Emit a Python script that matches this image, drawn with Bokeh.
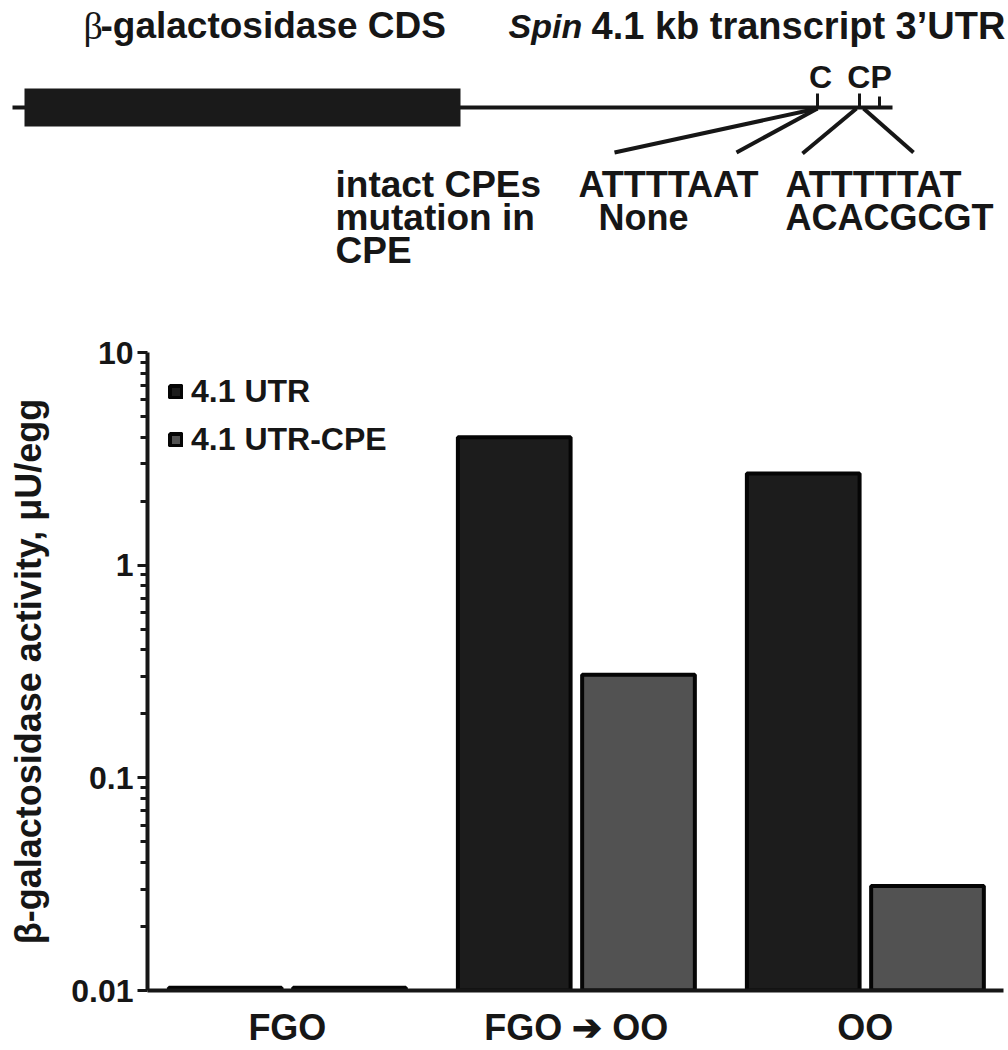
import numpy as np
from bokeh.plotting import figure
from bokeh.models import Range1d, FixedTicker, Legend, LegendItem, ColumnDataSource
from bokeh.layouts import column
from bokeh.embed import file_html
from bokeh.resources import INLINE
from bokeh.core.properties import value

# ---------------- data ----------------
stages = ["FGO", "FGO \u2794 OO", "OO"]
series_names = ["4.1 UTR", "4.1 UTR-CPE"]
utr_activity = [0.0103, 4.0, 2.7]          # beta-gal activity, uU/egg
utr_cpe_activity = [0.0103, 0.305, 0.031]
y_major_ticks = [0.01, 0.1, 1.0, 10.0]
y_tick_labels = ["0.01", "0.1", "1", "10"]
y_minor_ticks = [m * d for d in (0.01, 0.1, 1.0) for m in range(2, 10)]
y_label = "\u03b2-galactosidase activity, \u03bcU/egg"

# schematic texts
cds_beta = "\u03b2"
cds_label = "-galactosidase CDS"
utr_italic = "Spin"
utr_label = "4.1 kb transcript 3\u2019UTR"
site_labels = ["C", "CP"]
left_rows = ["intact CPEs", "mutation in", "CPE"]
seq_site1 = ["ATTTTAAT", "None"]
seq_site2 = ["ATTTTTAT", "ACACGCGT"]

FONT = "Liberation Sans"
INK = "#161616"

W = 1008
TOP_H = 290
BOT_H = 760
BORDER_L = 147
BORDER_R = 5

# ---------------- schematic (top) ----------------
# frame aligned with the chart below; the x range maps 1:1 to page pixels
top = figure(width=W, height=TOP_H, x_range=Range1d(BORDER_L, W - BORDER_R),
             y_range=Range1d(TOP_H, 0),
             output_backend="svg", toolbar_location=None,
             min_border_left=BORDER_L, min_border_right=BORDER_R,
             min_border_top=0, min_border_bottom=0,
             x_axis_location=None, y_axis_location=None, outline_line_color=None)
top.grid.visible = False
LV = "overlay"

# backbone and CDS box
top.line(x=[12, 892], y=[107, 107], line_width=4, line_color=INK, level=LV)
top.quad(left=[24], right=[460], top=[88], bottom=[126], fill_color="#1a1a1a",
         line_color=None, level=LV)
# CPE / PAS sites
top.segment(x0=[817, 859, 879], y0=[93, 93, 96], x1=[817, 859, 879], y1=[107, 107, 107],
            line_width=3, line_color=INK, level=LV)
top.text(x=[820, 869], y=[76, 76], text=site_labels, text_align="center",
         text_baseline="alphabetic", text_font=value(FONT), text_font_style="bold",
         text_font_size="32px", text_color=INK, level=LV)
top.segment(x0=[817, 817, 856, 863], y0=[108, 108, 108, 108],
            x1=[614, 736, 802, 913], y1=[152, 152, 153, 152],
            line_width=4, line_color=INK, level=LV)

# titles
top.text(x=[83], y=[25], text=[cds_beta], text_font=value("Liberation Serif"),
         text_font_size="38px", text_baseline="alphabetic", text_color=INK, level=LV)
top.text(x=[100], y=[25], text=[cds_label], text_font=value(FONT), text_font_style="bold",
         text_font_size="37px", text_baseline="alphabetic", text_color=INK, level=LV)
top.text(x=[508], y=[25], text=[utr_italic], text_font=value(FONT), text_font_style="bold italic",
         text_font_size="34px", text_baseline="alphabetic", text_color=INK, level=LV)
top.text(x=[591], y=[25], text=[utr_label], text_font=value(FONT), text_font_style="bold",
         text_font_size="38px", text_baseline="alphabetic", text_color=INK, level=LV)

# sequence rows
row_y = [184, 217, 250]
top.text(x=[335] * 3, y=row_y, text=left_rows, text_font=value(FONT), text_font_style="bold",
         text_font_size="37px", text_baseline="alphabetic", text_color=INK, level=LV)
top.text(x=[578, 598], y=row_y[:2], text=seq_site1, text_font=value(FONT), text_font_style="bold",
         text_font_size="36px", text_baseline="alphabetic", text_color=INK, level=LV)
top.text(x=[785, 785], y=row_y[:2], text=seq_site2, text_font=value(FONT), text_font_style="bold",
         text_font_size="36px", text_baseline="alphabetic", text_color=INK, level=LV)

# ---------------- bar chart (bottom) ----------------
bot = figure(width=W, height=BOT_H, y_axis_type="log",
             x_range=Range1d(-0.484, 2.478), y_range=Range1d(0.01, 10),
             output_backend="svg", toolbar_location=None,
             min_border_left=BORDER_L, min_border_right=BORDER_R,
             min_border_top=62, min_border_bottom=59,
             outline_line_color=None)
bot.grid.visible = False

x_idx = np.arange(len(stages))
src = ColumnDataSource(dict(x_utr=x_idx - 0.215, x_cpe=x_idx + 0.215,
                            utr=utr_activity, cpe=utr_cpe_activity))
r1 = bot.vbar(x="x_utr", top="utr", bottom=0.01, width=0.39, source=src,
              fill_color="#1c1c1c", line_color="#050505", line_width=4)
r2 = bot.vbar(x="x_cpe", top="cpe", bottom=0.01, width=0.39, source=src,
              fill_color="#525252", line_color="#050505", line_width=4)

# y axis
ya = bot.yaxis[0]
ya.ticker = FixedTicker(ticks=y_major_ticks, minor_ticks=y_minor_ticks)
ya.major_label_overrides = dict(zip(y_major_ticks, y_tick_labels))
ya.axis_line_width = 4
ya.axis_line_color = INK
ya.major_tick_line_width = 3
ya.major_tick_line_color = INK
ya.minor_tick_line_width = 3
ya.minor_tick_line_color = INK
ya.major_tick_out = 10
ya.major_tick_in = 0
ya.minor_tick_out = 7
ya.minor_tick_in = 0
ya.major_label_standoff = 4
ya.major_label_text_font = FONT
ya.major_label_text_font_style = "bold"
ya.major_label_text_font_size = "32px"
ya.major_label_text_color = INK
ya.axis_label = y_label
ya.axis_label_text_font = FONT
ya.axis_label_text_font_style = "bold"
ya.axis_label_text_font_size = "36px"
ya.axis_label_text_color = INK
ya.axis_label_standoff = 19

# x axis
xa = bot.xaxis[0]
xa.ticker = FixedTicker(ticks=list(range(len(stages))), minor_ticks=[])
xa.major_label_overrides = {i: s for i, s in enumerate(stages)}
xa.axis_line_width = 4
xa.axis_line_color = INK
xa.major_tick_line_color = None
xa.minor_tick_line_color = None
xa.major_tick_out = 0
xa.major_tick_in = 0
xa.major_label_standoff = 16
xa.major_label_text_font = FONT
xa.major_label_text_font_style = "bold"
xa.major_label_text_font_size = "36px"
xa.major_label_text_color = INK

legend = Legend(items=[LegendItem(label=series_names[0], renderers=[r1]),
                       LegendItem(label=series_names[1], renderers=[r2])],
                location="top_left", margin=21, padding=10, spacing=11,
                glyph_width=15, glyph_height=15, label_standoff=8,
                label_text_font=FONT, label_text_font_style="bold",
                label_text_font_size="32px", label_text_color=INK,
                border_line_color=None, background_fill_alpha=0)
bot.add_layout(legend)

layout = column(top, bot, spacing=0)
open("out.html", "w").write(file_html(layout, INLINE))
